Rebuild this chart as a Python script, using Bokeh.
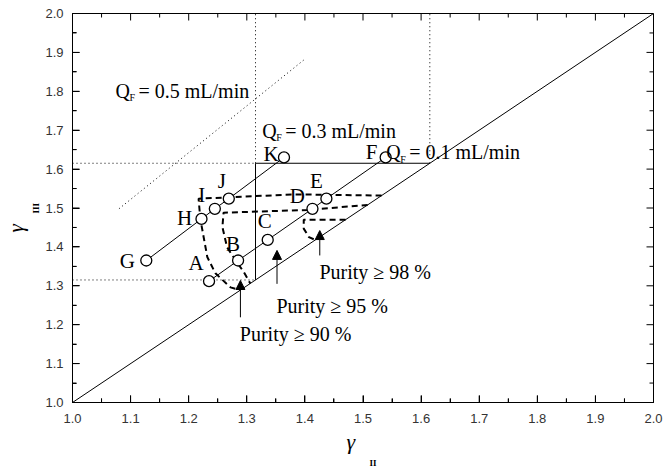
import numpy as np
from bokeh.plotting import figure
from bokeh.models import (Range1d, SingleIntervalTicker, PrintfTickFormatter,
                          ColumnDataSource, Arrow, NormalHead, Title)
from bokeh.core.properties import value
from bokeh.embed import file_html
from bokeh.resources import INLINE

# ---------------- data ----------------
# operating points on the QF = 0.1 mL/min line (A..F)
pts1_names = ["A", "B", "C", "D", "E", "F"]
pts1_x = [1.235, 1.285, 1.336, 1.413, 1.437, 1.539]
pts1_y = [1.312, 1.365, 1.418, 1.498, 1.524, 1.630]
# operating points on the QF = 0.3 mL/min line (G..K)
pts2_names = ["G", "H", "I", "J", "K"]
pts2_x = [1.127, 1.222, 1.245, 1.269, 1.364]
pts2_y = [1.365, 1.472, 1.498, 1.524, 1.630]

# QF = 0.5 mL/min dotted line
qf05_x = [1.080, 1.401]
qf05_y = [1.498, 1.884]

# complete-separation triangle vertices
tri_x = [1.315, 1.315, 1.615]
tri_y = [1.315, 1.615, 1.615]

# diagonal gamma_III = gamma_II
diag_x = [1.0, 2.0]
diag_y = [1.0, 2.0]

# purity contours
p90_x = [1.532, 1.381, 1.217, 1.220, 1.232, 1.246, 1.272, 1.289]
p90_y = [1.532, 1.535, 1.524, 1.472, 1.374, 1.332, 1.296, 1.289]
p95_x = [1.508, 1.405, 1.260, 1.258, 1.266, 1.281, 1.295, 1.306]
p95_y = [1.508, 1.495, 1.488, 1.451, 1.399, 1.365, 1.335, 1.306]
p98_x = [1.470, 1.398, 1.398, 1.407, 1.418]
p98_y = [1.470, 1.470, 1.447, 1.425, 1.418]

# purity annotations
pur_text = ["Purity \u2265 90 %", "Purity \u2265 95 %", "Purity \u2265 98 %"]
pur_arrow_x = [1.289, 1.352, 1.4256]
pur_tail_y = [1.219, 1.305, 1.378]
pur_tip_y = [1.3136, 1.391, 1.442]
pur_text_x = [1.288, 1.351, 1.425]
pur_text_y = [1.1766, 1.249, 1.335]

# QF annotations
qf_text = ["= 0.5 mL/min", "= 0.3 mL/min", "= 0.1 mL/min"]
qf_x = [1.074, 1.3265, 1.540]
qf_y = [1.802, 1.699, 1.643]

# axis ticks
axis_min, axis_max = 1.0, 2.0
tick_step = 0.1
major_ticks = np.round(np.arange(axis_min, axis_max + 1e-9, tick_step), 2)
minor_ticks = np.round(major_ticks[:-1] + tick_step / 2, 3)

# ---------------- styles ----------------
SERIF = "Liberation Serif"
SANS = "Liberation Sans"
off1_x = [-13, -5, -3, -15, -10, -14]
off1_y = [-18, -17, -19, -13, -18, -5]
off2_x = [-19, -17, -13, -7, -13]
off2_y = [0, -1, -14, -18, -3]

W, H = 665, 467
BL, BR, BT, BB = 72, 12, 13, 65
p = figure(width=W, height=H, x_range=Range1d(axis_min, axis_max),
           y_range=Range1d(axis_min, axis_max),
           output_backend="svg", toolbar_location=None,
           min_border_left=BL, min_border_right=BR, min_border_top=BT, min_border_bottom=BB)
p.grid.visible = False
p.outline_line_color = "black"
p.outline_line_width = 1

for ax in (p.xaxis[0], p.yaxis[0]):
    ax.ticker = SingleIntervalTicker(interval=tick_step, num_minor_ticks=2)
    ax.formatter = PrintfTickFormatter(format="%.1f")
    ax.major_tick_in = 7
    ax.major_tick_out = 0
    ax.minor_tick_in = 4
    ax.minor_tick_out = 0
    ax.axis_line_color = "black"
    ax.major_tick_line_color = "black"
    ax.minor_tick_line_color = "black"
    ax.major_label_text_font = SANS
    ax.major_label_text_font_size = "13px"
    ax.major_label_text_color = "#333333"
p.xaxis[0].major_label_standoff = 11
p.yaxis[0].major_label_standoff = 9

# inward ticks on all four sides, drawn as broken polylines inside the frame
frame_w = W - BL - BR
frame_h = H - BT - BB
span = axis_max - axis_min
tick_len = {"major": 7, "minor": 4}


def tick_path(values, edge, length_px, vertical, inward):
    xs, ys = [], []
    if vertical:
        d = inward * length_px * span / frame_h
        for v in values:
            xs += [v, v, np.nan]
            ys += [edge, edge + d, np.nan]
    else:
        d = inward * length_px * span / frame_w
        for v in values:
            xs += [edge, edge + d, np.nan]
            ys += [v, v, np.nan]
    return xs, ys


for vals, kind in ((major_ticks, "major"), (minor_ticks, "minor")):
    L = tick_len[kind]
    for edge, vertical, inward in ((axis_min, True, 1), (axis_max, True, -1),
                                   (axis_min, False, 1), (axis_max, False, -1)):
        tx, ty = tick_path(vals, edge, L, vertical, inward)
        p.line(tx, ty, line_color="black", line_width=1)

# dotted guide lines derived from triangle vertices
dot = dict(line_color="black", line_width=1, line_dash="1 3")
p.line([tri_x[1], tri_x[1]], [tri_y[1], axis_max], **dot)
p.line([tri_x[2], tri_x[2]], [tri_y[2], axis_max], **dot)
p.line([axis_min, tri_x[1]], [tri_y[1], tri_y[1]], **dot)
p.line([axis_min, tri_x[0]], [tri_y[0], tri_y[0]], **dot)
p.line(qf05_x, qf05_y, **dot)

# diagonal and triangle
p.line(diag_x, diag_y, line_color="black", line_width=1)
p.line(tri_x, tri_y, line_color="black", line_width=1)

# purity contours
for cx, cy in [(p90_x, p90_y), (p95_x, p95_y), (p98_x, p98_y)]:
    p.line(cx, cy, line_color="black", line_width=2, line_dash="6 4")

# operating lines with points
src1 = ColumnDataSource(dict(x=pts1_x, y=pts1_y, t=pts1_names, dx=off1_x, dy=off1_y))
src2 = ColumnDataSource(dict(x=pts2_x, y=pts2_y, t=pts2_names, dx=off2_x, dy=off2_y))
for s in (src1, src2):
    p.line("x", "y", source=s, line_color="black", line_width=1)
    p.scatter("x", "y", source=s, size=11, marker="circle", fill_color="white",
              line_color="black", line_width=1.3)
    p.text("x", "y", text="t", source=s, x_offset="dx", y_offset="dy",
           text_font=value(SERIF), text_font_size="21px", text_align="center",
           text_baseline="middle", text_color="black")

# purity arrows and labels
for i in range(3):
    p.add_layout(Arrow(end=NormalHead(size=9, fill_color="black", line_color="black", line_width=1),
                       x_start=pur_arrow_x[i], y_start=pur_tail_y[i],
                       x_end=pur_arrow_x[i], y_end=pur_tip_y[i],
                       line_color="black", line_width=1))
p.text(pur_text_x, pur_text_y, text=pur_text, text_font=value(SERIF), text_font_size="20px",
       text_align="left", text_baseline="alphabetic", text_color="black")

# QF labels
p.text(qf_x, qf_y, text=["Q"] * 3, text_font=value(SERIF), text_font_size="20px",
       text_align="left", text_baseline="alphabetic", text_color="black")
p.text(qf_x, qf_y, text=["F"] * 3, x_offset=14, y_offset=7, text_font=value(SERIF),
       text_font_size="10px", text_align="left", text_baseline="alphabetic", text_color="black")
p.text(qf_x, qf_y, text=qf_text, x_offset=23, text_font=value(SERIF), text_font_size="20px",
       text_align="left", text_baseline="alphabetic", text_color="black")


def make_title(text, offset, standoff, size, style):
    return Title(text=text, align="left", offset=offset, standoff=standoff, text_font=SERIF,
                 text_font_style=style, text_font_size=size, text_color="black")


# axis titles as side-panel titles (stacked outward from the axis)
p.add_layout(make_title("\u03b3", 274, 3, "22px", "italic"), "below")
p.add_layout(make_title("II", 297, 0, "9px", "bold"), "below")
p.add_layout(make_title("III", 189, 3, "9px", "bold"), "left")
p.add_layout(make_title("\u03b3", 170, 0, "21px", "italic"), "left")

open("out.html", "w").write(file_html(p, INLINE))
